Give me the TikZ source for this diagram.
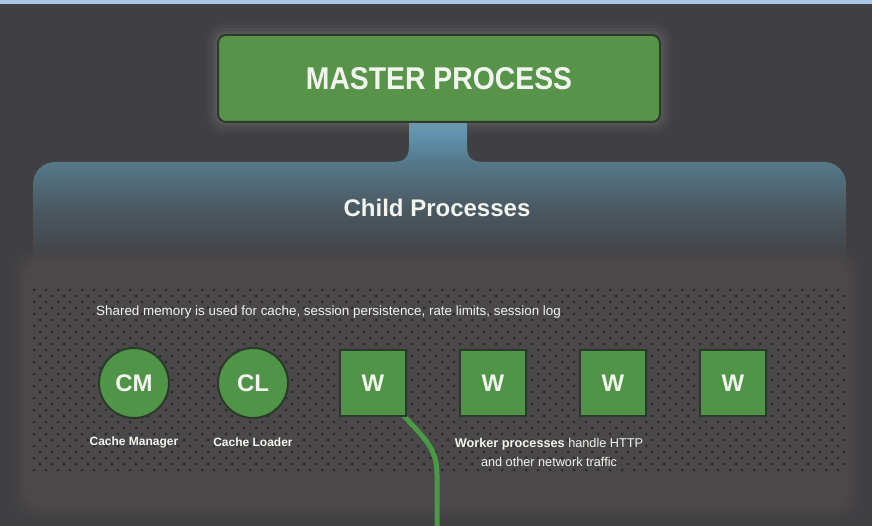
\documentclass[tikz,border=0pt]{standalone}
\usepackage{fontspec}
\setmainfont{Liberation Sans}
\newfontfamily\cond[FakeStretch=0.9]{Liberation Sans}
\usetikzlibrary{calc}
\definecolor{bg}{HTML}{403F41}
\definecolor{topstrip}{HTML}{A9C8E6}
\definecolor{mgreen}{HTML}{579449}
\definecolor{ngreen}{HTML}{4F9447}
\definecolor{gborder}{HTML}{2B3A2A}
\definecolor{glowc}{HTML}{8A8A8A}
\definecolor{stemt}{HTML}{63A0BE}
\definecolor{panelt}{HTML}{56788A}
\definecolor{panelb}{HTML}{424244}
\definecolor{innerc}{HTML}{4B4849}
\definecolor{dotc}{HTML}{2A292B}
\definecolor{wirec}{HTML}{4A9A45}
\definecolor{txt}{HTML}{F2F5EE}
\tikzset{
  masterbox/.style={draw=gborder, line width=2pt, fill=mgreen, rounded corners=8pt,
    minimum width=442pt, minimum height=87pt, text=txt,
    font=\cond\fontsize{31.5}{33}\selectfont\bfseries},
  circnode/.style={circle, draw=gborder, line width=2pt, fill=ngreen, minimum size=70pt,
    inner sep=0pt, text=txt, font=\fontsize{24}{26}\selectfont\bfseries},
  sqnode/.style={rectangle, draw=gborder, line width=2pt, fill=ngreen, minimum size=66pt,
    inner sep=0pt, text=txt, font=\fontsize{24}{26}\selectfont\bfseries},
  lbl/.style={text=txt, inner sep=0pt, font=\fontsize{12}{14}\selectfont\bfseries},
  note/.style={text=txt, inner sep=0pt, font=\fontsize{13.4}{19}\selectfont},
  wire/.style={draw=wirec, line width=5pt},
}
\begin{document}
\begin{tikzpicture}[x=1pt,y=-1pt]
\useasboundingbox (0,0) rectangle (872,526);
\fill[bg] (0,0) rectangle (872,526);
\fill[topstrip] (0,0) rectangle (872,4);

% child processes panel
\shade[top color=panelt, bottom color=panelb, middle color=panelt!38!panelb]
  (33,262) [rounded corners=22pt] -- (33,162) -- (846,162) [sharp corners] -- (846,262) -- cycle;
% stem
\shade[top color=stemt, bottom color=panelt]
  (409,122) -- (409,146) .. controls (409,158) and (404,162) .. (392,162)
  -- (484,162) .. controls (472,162) and (467,158) .. (467,146) -- (467,122) -- cycle;

% inner panel with soft edge
\foreach \d/\o in {10/0.15,7/0.2,4/0.3,2/0.4}
  \fill[innerc, opacity=\o, rounded corners=18pt] (22-\d,258-\d) rectangle (852+\d,510+\d);
\fill[innerc, rounded corners=18pt] (24,260) rectangle (850,508);

% dots
\foreach \r in {0,...,30} {
  \pgfmathsetmacro\yy{290+6*\r}
  \pgfmathsetmacro\off{mod(\r,2)*6}
  \foreach \c in {0,...,67}
    \fill[dotc] (34+\off+12*\c,\yy) circle (1.5);
}

% master glow
\foreach \w/\o in {26/0.05,20/0.06,14/0.08,8/0.1,4/0.14}
  \draw[glowc, line width=\w pt, opacity=\o, rounded corners=8pt] (218,35) rectangle (660,122);
\node[masterbox] (master) at (439,78.5) {MASTER PROCESS};

\node[text=txt, font=\fontsize{24}{26}\selectfont\bfseries] (child) at (437,208) {Child Processes};

\node[note, anchor=west] (shared) at (96,312)
  {Shared memory is used for cache, session persistence, rate limits, session log};

% wire
\coordinate (wout) at (437,526);
\coordinate (wstart) at (402,414);
\draw[wire] (wstart) .. controls (424,438) and (437,448) .. (437,474) -- (wout);

\node[circnode] (cm) at (134,383) {CM};
\node[circnode] (cl) at (253,383) {CL};
\node[sqnode] (w1) at (373,383) {W};
\node[sqnode] (w2) at (493,383) {W};
\node[sqnode] (w3) at (613,383) {W};
\node[sqnode] (w4) at (733,383) {W};

\node[lbl] (cml) at (134,442) {Cache Manager};
\node[lbl] (cll) at (253,442) {Cache Loader};
\node[note, align=center, font=\fontsize{12.7}{19}\selectfont] (wl) at (549,452)
  {\textbf{Worker processes} handle HTTP\\and other network traffic};
\end{tikzpicture}
\end{document}
